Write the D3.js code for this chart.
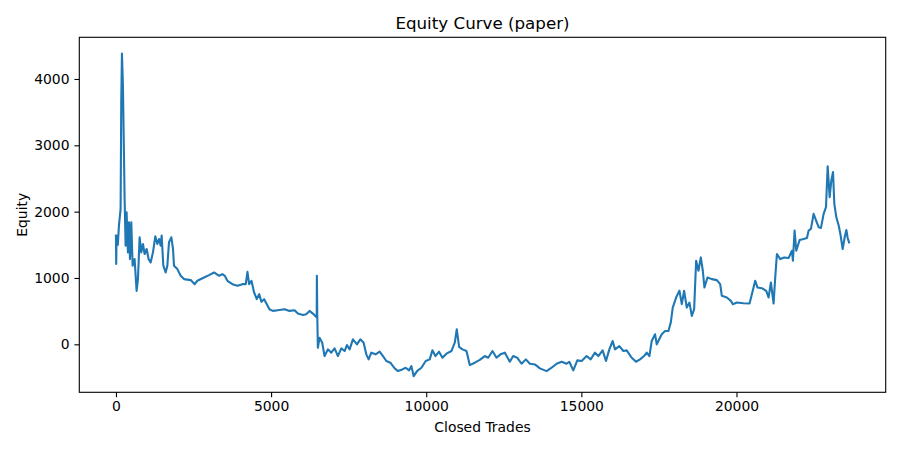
<!DOCTYPE html>
<html>
<head>
<meta charset="utf-8">
<script src="https://cdn.jsdelivr.net/npm/d3@7"></script>
<style>
    html, body { margin: 0; padding: 0; background: #fff; }
    svg text { font-family: 'DejaVu Sans', sans-serif; fill: #000; }
</style>
</head>
<body>
<div id="chart"></div>
<script>
// data
const closedTrades = [
    0, 8, 20, 60, 96, 150, 171, 193, 225, 257, 279, 311, 343, 386, 419, 451, 494, 537, 601, 666,
    709, 763, 817, 870, 924, 989, 1053, 1118, 1193, 1268, 1333, 1387, 1441, 1473, 1527, 1602, 1656, 1710, 1785, 1839,
    1871, 1979, 2086, 2194, 2409, 2538, 2624, 2840, 3001, 3162, 3324, 3431, 3507, 3593, 3754, 3915, 4077, 4184, 4238, 4292,
    4367, 4453, 4539, 4615, 4690, 4776, 4862, 4948, 5056, 5217, 5433, 5594, 5755, 5863, 6024, 6132, 6240, 6347, 6455, 6470,
    6476, 6490, 6508, 6562, 6648, 6724, 6831, 6939, 7047, 7154, 7262, 7369, 7445, 7531, 7638, 7767, 7875, 7983, 8069, 8144,
    8230, 8370, 8499, 8607, 8714, 8844, 8983, 9091, 9231, 9338, 9446, 9521, 9597, 9704, 9844, 9984, 10113, 10199, 10296, 10414,
    10522, 10651, 10813, 10920, 10985, 11060, 11168, 11297, 11404, 11566, 11727, 11888, 11996, 12136, 12265, 12394, 12534, 12695, 12803, 12932,
    13072, 13212, 13341, 13502, 13664, 13879, 14041, 14202, 14363, 14525, 14611, 14740, 14869, 15009, 15170, 15299, 15439, 15547, 15686, 15794,
    15902, 16009, 16085, 16225, 16354, 16461, 16623, 16763, 16892, 17021, 17107, 17193, 17268, 17376, 17430, 17591, 17699, 17807, 17882, 17946,
    18054, 18161, 18237, 18312, 18398, 18484, 18560, 18635, 18700, 18775, 18850, 18915, 18968, 19065, 19205, 19367, 19474, 19528, 19689, 19818,
    19883, 20012, 20227, 20421, 20496, 20604, 20679, 20819, 20959, 21034, 21109, 21196, 21249, 21303, 21411, 21539, 21679, 21787, 21819, 21873,
    21927, 22035, 22164, 22271, 22325, 22400, 22486, 22573, 22648, 22723, 22809, 22885, 22939, 23003, 23057, 23111, 23154, 23218, 23294, 23348,
    23423, 23487, 23541, 23584, 23628,
];
const equity = [
    1640, 1210, 1638, 1500, 1790, 2042, 3655, 4385, 3908, 2899, 2193, 1487, 1991, 1386, 1840, 1285, 1840, 1185, 1285, 806,
    983, 1613, 1386, 1513, 1361, 1437, 1285, 1235, 1386, 1628, 1513, 1588, 1487, 1638, 1185, 1083, 1185, 1538, 1613, 1437,
    1185, 1134, 1033, 983, 968, 907, 958, 1008, 1043, 1083, 1033, 1058, 1033, 958, 907, 882, 907, 907, 1093, 907,
    958, 781, 681, 756, 640, 681, 605, 529, 504, 514, 529, 504, 514, 463, 443, 453, 504, 463, 413, 420,
    1033, 400, -51, 100, 24, -177, -76, -126, -61, -177, -61, -101, -11, -76, 75, 0, 75, 24, -151, -227,
    -126, -151, -111, -177, -252, -277, -363, -403, -378, -353, -393, -328, -480, -403, -353, -252, -227, -91, -177, -111,
    -202, -141, -101, 24, 227, -40, -76, -101, -313, -277, -235, -177, -202, -101, -202, -151, -126, -263, -177, -202,
    -293, -227, -293, -303, -363, -404, -353, -293, -263, -293, -263, -393, -242, -252, -177, -227, -126, -177, -91, -252,
    -76, 50, -76, -26, -101, -91, -202, -263, -227, -177, -126, -177, 50, 151, 0, 151, 200, 202, 327, 554,
    705, 810, 605, 806, 554, 629, 428, 529, 1260, 1109, 1310, 1109, 856, 1008, 983, 968, 907, 731, 706, 655,
    605, 630, 620, 615, 756, 958, 856, 846, 806, 706, 932, 615, 1008, 1362, 1285, 1310, 1300, 1411, 1260, 1714,
    1411, 1573, 1588, 1603, 1714, 1740, 1967, 1857, 1765, 1755, 1967, 2067, 2682, 2218, 2471, 2596, 2118, 1915, 1790, 1664,
    1437, 1613, 1724, 1603, 1537,
];
const xTicks = [0, 5000, 10000, 15000, 20000];
const yTicks = [0, 1000, 2000, 3000, 4000];

const chartTitle = 'Equity Curve (paper)';
const xLabel = 'Closed Trades';
const yLabel = 'Equity';

/**
 * matplotlib-like single line plot
 */
class EquityChart
{
    constructor(containerSelector)
    {
        this.width = 900;
        this.height = 450;
        this.plot = { left: 79.3, right: 885.7, top: 37.3, bottom: 392.3 };
        this.tickSize = 4.9;
        this.color = '#1f77b4';

        this.svg = d3.select(containerSelector).append('svg')
            .attr('width', this.width)
            .attr('height', this.height);
    }

    // add 5% margins like matplotlib autoscale
    _padded(values)
    {
        const [lo, hi] = d3.extent(values);
        const pad = (hi - lo) * 0.05;
        return [lo - pad, hi + pad];
    }

    render()
    {
        const p = this.plot;
        const x = d3.scaleLinear().domain(this._padded(closedTrades)).range([p.left, p.right]);
        const y = d3.scaleLinear().domain(this._padded(equity)).range([p.bottom, p.top]);

        const points = closedTrades.map((t, i) => [t, equity[i]]);

        const line = d3.line()
            .x(d => x(d[0]))
            .y(d => y(d[1]));

        this.svg.append('clipPath').attr('id', 'clip')
            .append('rect')
            .attr('x', p.left).attr('y', p.top)
            .attr('width', p.right - p.left).attr('height', p.bottom - p.top);

        this.svg.append('path')
            .datum(points)
            .attr('clip-path', 'url(#clip)')
            .attr('fill', 'none')
            .attr('stroke', this.color)
            .attr('stroke-width', 2.1)
            .attr('stroke-linejoin', 'round')
            .attr('stroke-linecap', 'square')
            .attr('d', line);

        const xAxis = d3.axisBottom(x)
            .tickValues(xTicks)
            .tickSize(this.tickSize)
            .tickPadding(3.5)
            .tickFormat(d3.format('d'));
        const gx = this.svg.append('g')
            .attr('transform', `translate(0, ${p.bottom})`)
            .call(xAxis);
        gx.select('.domain').remove();
        gx.selectAll('text').style('font-size', '13.9px');

        const yAxis = d3.axisLeft(y)
            .tickValues(yTicks)
            .tickSize(this.tickSize)
            .tickPadding(4.9)
            .tickFormat(d3.format('d'));
        const gy = this.svg.append('g')
            .attr('transform', `translate(${p.left}, 0)`)
            .call(yAxis);
        gy.select('.domain').remove();
        gy.selectAll('text').style('font-size', '13.9px');

        this.svg.selectAll('.tick line').attr('stroke', '#000').attr('stroke-width', 1.1);

        // frame
        this.svg.append('rect')
            .attr('x', p.left).attr('y', p.top)
            .attr('width', p.right - p.left).attr('height', p.bottom - p.top)
            .attr('fill', 'none')
            .attr('stroke', '#000')
            .attr('stroke-width', 1.1);

        this.svg.append('text')
            .attr('x', (p.left + p.right) / 2)
            .attr('y', 29)
            .attr('text-anchor', 'middle')
            .style('font-size', '16.7px')
            .text(chartTitle);

        this.svg.append('text')
            .attr('x', (p.left + p.right) / 2)
            .attr('y', 432)
            .attr('text-anchor', 'middle')
            .style('font-size', '13.9px')
            .text(xLabel);

        this.svg.append('text')
            .attr('transform', `translate(27, ${(p.top + p.bottom) / 2}) rotate(-90)`)
            .attr('text-anchor', 'middle')
            .style('font-size', '13.9px')
            .text(yLabel);
    }
}

new EquityChart('#chart').render();
</script>
</body>
</html>
